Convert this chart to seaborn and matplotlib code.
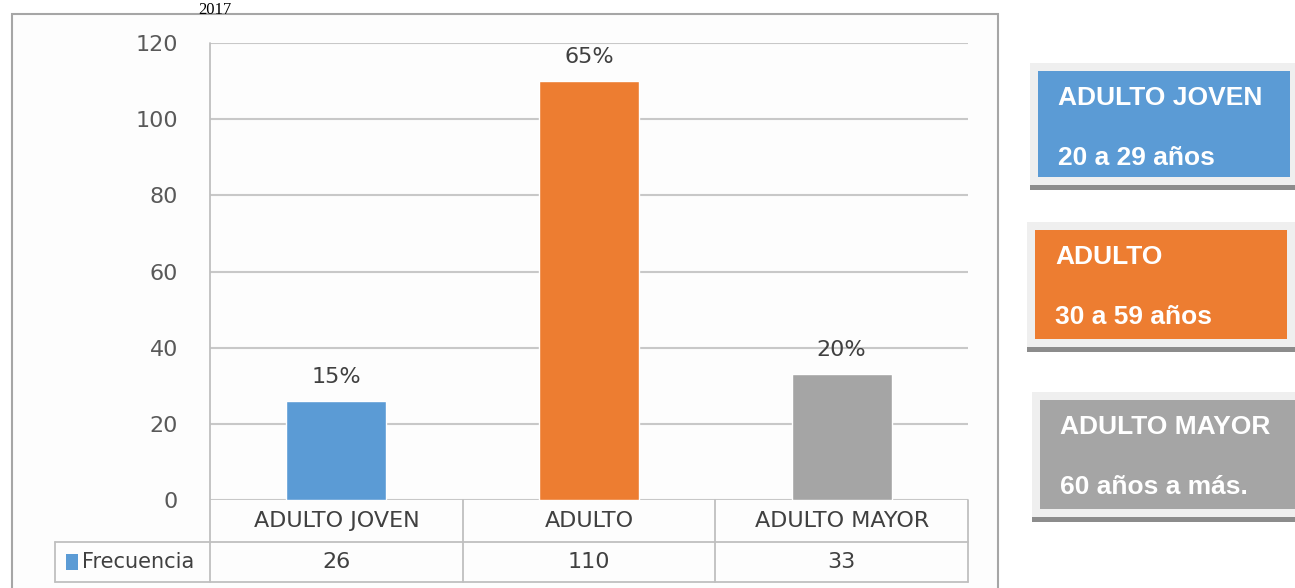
import matplotlib
matplotlib.use("Agg")
import matplotlib.pyplot as plt
import seaborn as sns
import pandas as pd
from matplotlib.patches import Rectangle
from matplotlib.lines import Line2D

categories = ["ADULTO JOVEN", "ADULTO", "ADULTO MAYOR"]
frecuencia = [26, 110, 33]
porcentajes = ["15%", "65%", "20%"]
colores = ["#5B9BD5", "#ED7D31", "#A5A5A5"]
yticks = [0, 20, 40, 60, 80, 100, 120]
serie = "Frecuencia"
cajas_titulo = ["ADULTO JOVEN", "ADULTO", "ADULTO MAYOR"]
cajas_rango = ["20 a 29 años", "30 a 59 años", "60 años a más."]
titulo_corto = "2017"

sns.set_theme(style="white")
plt.rcParams['font.family'] = ['Liberation Sans Narrow', 'DejaVu Sans']

W, H = 1295, 588
fig = plt.figure(figsize=(W / 100, H / 100), dpi=100)
fig.patch.set_facecolor("white")

def fx(px):
    return px / W

def fy(py):
    return 1 - py / H

# outer chart frame
fig.add_artist(Rectangle((fx(12), fy(600)), fx(998) - fx(12), fy(14) - fy(600),
                         transform=fig.transFigure, facecolor="#FDFDFD",
                         edgecolor="#A6A6A6", lw=1.5, zorder=0))
fig.text(fx(215), fy(1.5), titulo_corto, ha="center", va="top",
         fontsize=12, family="Liberation Serif", color="black", zorder=5)

ax = fig.add_axes([fx(210), fy(500), fx(968) - fx(210), fy(43) - fy(500)])
ax.set_facecolor("none")
df = pd.DataFrame({"cat": categories, "val": frecuencia})
sns.barplot(data=df, x="cat", y="val", hue="cat", palette=colores,
            width=0.396, legend=False, ax=ax, saturation=1, zorder=3)
ax.set_xlim(-0.5, 2.5)
ax.set_ylim(0, 120)
ax.set_yticks(yticks)
ax.set_yticklabels([str(t) for t in yticks], fontsize=16, color="#595959")
ax.tick_params(axis="y", length=0, pad=23)
ax.set_xticks([])
ax.set_xlabel("")
ax.set_ylabel("")
for s in ax.spines.values():
    s.set_visible(False)
for t in yticks:
    ax.axhline(t, color="#C8C8C8", lw=1.5, zorder=1)

for i, (v, p) in enumerate(zip(frecuencia, porcentajes)):
    ax.text(i, v + 3.8, p, ha="center", va="bottom", fontsize=16, color="#404040")

# data table (in data coordinates, drawn outside axes)
ppu = (500 - 43) / 120.0  # pixels per unit
y_row1 = -(542 - 500) / ppu
y_row2 = -(582 - 500) / ppu
x_left = (55 - 210) / ((968 - 210) / 3.0) - 0.5
lc = "#BFBFBF"
lines = [
    ([-0.5, -0.5], [120, y_row2]),
    ([0.5, 0.5], [0, y_row2]),
    ([1.5, 1.5], [0, y_row2]),
    ([2.5, 2.5], [0, y_row2]),
    ([x_left, 2.5], [y_row1, y_row1]),
    ([x_left, 2.5], [y_row2, y_row2]),
    ([x_left, x_left], [y_row1, y_row2]),
]
for xs, ys in lines:
    ax.add_line(Line2D(xs, ys, color=lc, lw=1.3, clip_on=False, zorder=1))
for i, (c, v) in enumerate(zip(categories, frecuencia)):
    ax.text(i, y_row1 / 2, c, ha="center", va="center", fontsize=16,
            color="#404040", clip_on=False)
    ax.text(i, (y_row1 + y_row2) / 2, str(v), ha="center", va="center",
            fontsize=16, color="#404040", clip_on=False)
ax.add_patch(Rectangle((x_left + 0.045, (y_row1 + y_row2) / 2 - 2.0), 0.045, 4.0,
                       facecolor=colores[0], edgecolor="none", clip_on=False))
ax.text(x_left + 0.105, (y_row1 + y_row2) / 2, serie, ha="left", va="center",
        fontsize=15, color="#404040", clip_on=False)

# side boxes
boxes = [
    (1030, 63, 1038, 71, 1290, 177),
    (1027, 222, 1035, 230, 1287, 339),
    (1032, 392, 1040, 400, 1295, 509),
]
for (ox, oy, ix0, iy0, ix1, iy1), col, t1, t2 in zip(boxes, colores, cajas_titulo, cajas_rango):
    fig.add_artist(Rectangle((fx(ox), fy(iy1 + 13)), fx(1300) - fx(ox), fy(iy1 + 7) - fy(iy1 + 13),
                             transform=fig.transFigure, facecolor="#8C8C8C",
                             edgecolor="none", zorder=1))
    fig.add_artist(Rectangle((fx(ox), fy(iy1 + 8)), fx(1300) - fx(ox), fy(oy) - fy(iy1 + 8),
                             transform=fig.transFigure, facecolor="#EFEFEF",
                             edgecolor="none", zorder=2))
    fig.add_artist(Rectangle((fx(ix0), fy(iy1)), fx(ix1) - fx(ix0), fy(iy0) - fy(iy1),
                             transform=fig.transFigure, facecolor=col,
                             edgecolor="none", zorder=3))
    fig.text(fx(ix0 + 20), fy(iy0 + 27), t1, ha="left", va="center", fontsize=19,
             fontweight="bold", family="Liberation Sans", color="white", zorder=4)
    fig.text(fx(ix0 + 20), fy(iy0 + 87), t2, ha="left", va="center", fontsize=19,
             fontweight="bold", family="Liberation Sans", color="white", zorder=4)

fig.savefig("out.png", dpi=100)
